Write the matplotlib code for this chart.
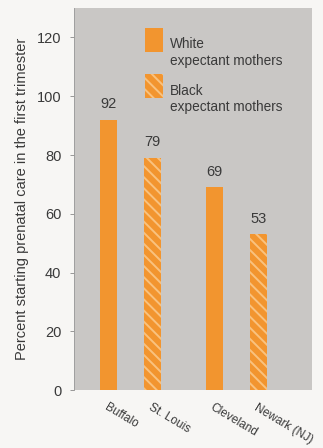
import matplotlib.pyplot as plt
from matplotlib.patches import Rectangle

# data
cities = ['Buffalo', 'St. Louis', 'Cleveland', 'Newark (NJ)']
groups = ['White', 'Black', 'White', 'Black']
values = [92, 79, 69, 53]
positions = [0, 1, 2.4, 3.4]
legend_labels = ['White\nexpectant mothers', 'Black\nexpectant mothers']

orange = '#F2952F'
stripe = '#F9C27F'
panel = '#C9C7C5'
ink = '#3a3a3a'
plt.rcParams['font.family'] = ['Liberation Sans Narrow', 'Liberation Sans', 'DejaVu Sans']
plt.rcParams['hatch.linewidth'] = 1.4

fig = plt.figure(figsize=(3.23, 4.48), dpi=100)
fig.patch.set_facecolor('#F7F6F4')
ax = fig.add_axes([0.229, 0.129, 0.737, 0.853])
ax.set_facecolor(panel)

for x, v, g in zip(positions, values, groups):
    hatch = '\\\\\\' if g == 'Black' else None
    ax.bar(x, v, width=0.39, color=orange, edgecolor=stripe if hatch else orange,
           hatch=hatch, linewidth=0)
    ax.text(x, v + 3, str(v), ha='center', va='bottom', fontsize=10.5, color=ink)

ax.set_xlim(-0.78, 4.62)
ax.set_ylim(0, 130)
ax.set_yticks(range(0, 121, 20))
ax.tick_params(axis='y', length=3, width=0.6, color='#888888', labelsize=10.5,
               labelcolor=ink, pad=6)
ax.set_xticks(positions)
ax.set_xticklabels(cities, rotation=-31, ha='left', rotation_mode='anchor',
                   fontsize=8.6, color=ink)
ax.tick_params(axis='x', length=0, pad=8)
for lab in ax.get_xticklabels():
    lab.set_x(lab.get_position()[0])
for s in ['top', 'right', 'bottom']:
    ax.spines[s].set_visible(False)
ax.spines['left'].set_color('#999999')
ax.spines['left'].set_linewidth(0.6)

ax.set_ylabel('Percent starting prenatal care in the first trimester',
              fontsize=10.5, color=ink, labelpad=6)

# legend drawn by hand to keep the text under the swatch like the original
for i, (lab, h) in enumerate(zip(legend_labels, [None, '\\\\\\'])):
    y0 = 0.885 - i * 0.121
    ax.add_patch(Rectangle((0.298, y0), 0.076, 0.063, transform=ax.transAxes,
                           facecolor=orange, edgecolor=stripe if h else orange,
                           hatch=h, linewidth=0))
    ax.text(0.403, y0 + 0.038, lab, transform=ax.transAxes, ha='left', va='top',
            fontsize=9.8, color=ink, linespacing=1.2)

fig.savefig('out.png', dpi=100, facecolor=fig.get_facecolor())
